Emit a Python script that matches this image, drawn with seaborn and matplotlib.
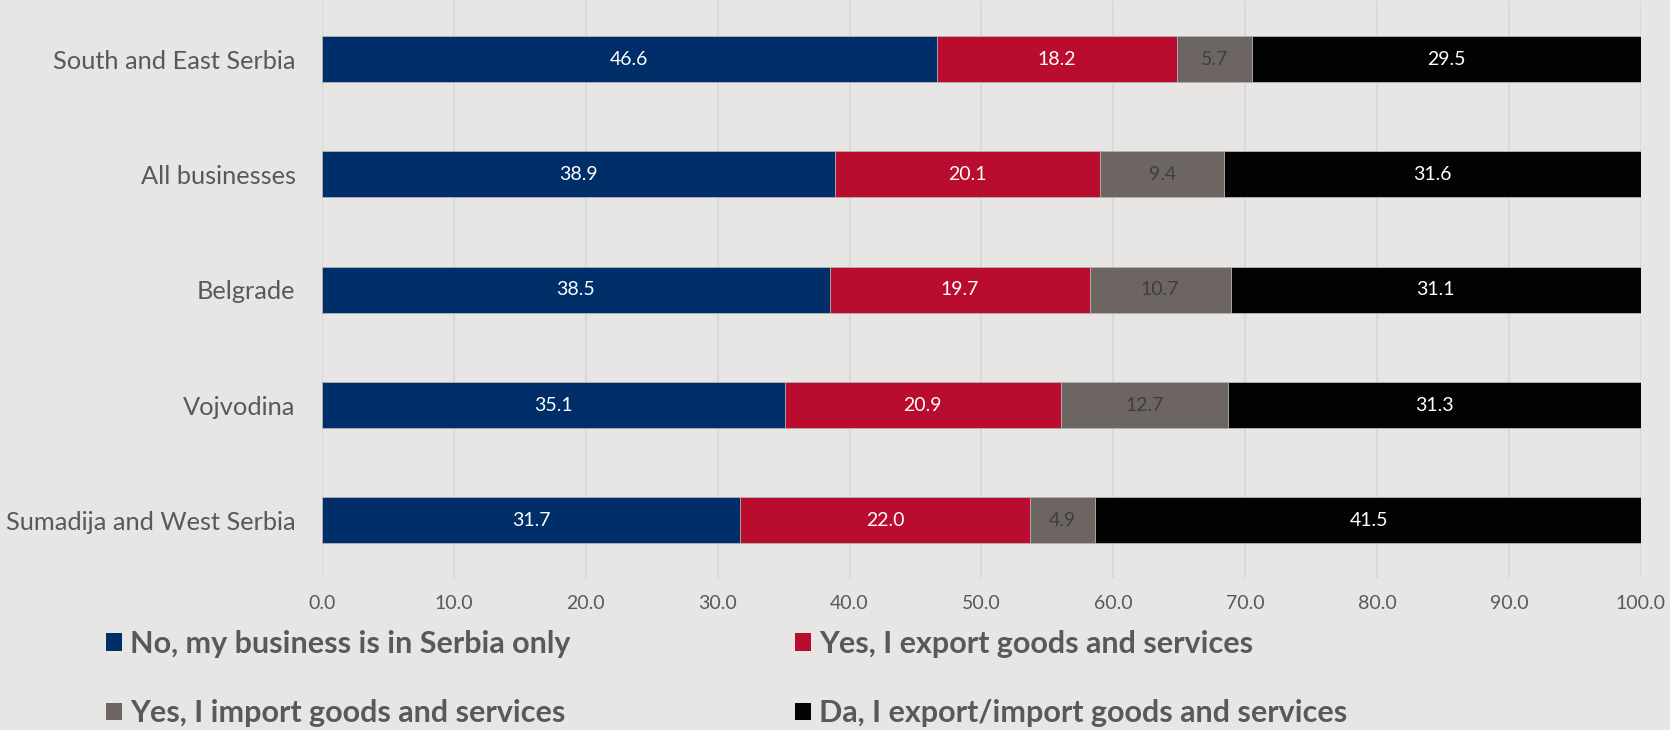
import matplotlib
matplotlib.use("Agg")
import matplotlib.pyplot as plt
import seaborn as sns
import pandas as pd
import numpy as np
from matplotlib.patches import Patch

# Share of businesses by trade activity, per region (%)
regions = ["South and East Serbia", "All businesses", "Belgrade",
           "Vojvodina", "Sumadija and West Serbia"]
serbia_only = [46.6, 38.9, 38.5, 35.1, 31.7]
export_only = [18.2, 20.1, 19.7, 20.9, 22.0]
import_only = [5.7, 9.4, 10.7, 12.7, 4.9]
export_import = [29.5, 31.6, 31.1, 31.3, 41.5]

series_names = ["No, my business is in Serbia only",
                "Yes, I export goods and services",
                "Yes, I import goods and services",
                "Da, I export/import goods and services"]
series_values = [serbia_only, export_only, import_only, export_import]
series_colors = ["#002e69", "#ba0c2f", "#6d6561", "#030303"]
label_colors = ["white", "white", "#3f3f3f", "white"]
x_ticks = [0, 10, 20, 30, 40, 50, 60, 70, 80, 90, 100]

BG = "#e7e6e5"
GRID = "#d8d8d8"
TEXT = "#595959"
FONT = "Lato"

sns.set_theme(style="white")
plt.rcParams["font.family"] = [FONT, "DejaVu Sans"]

fig = plt.figure(figsize=(16.7, 7.3), dpi=100, facecolor=BG)
ax = fig.add_axes([0.1928, 0.2082, 0.9826 - 0.1928, 0.998 - 0.2082])
ax.set_facecolor(BG)

vals = np.array(series_values, dtype=float)
cum = np.cumsum(vals, axis=0)

# stacked bars: draw cumulative totals from the outermost segment inwards
for i in range(len(series_names) - 1, -1, -1):
    df = pd.DataFrame({"region": regions, "value": cum[i]})
    sns.barplot(data=df, x="value", y="region", order=regions, orient="h",
                color=series_colors[i], saturation=1, width=0.4,
                edgecolor="#b8b8b8", linewidth=0.6, ax=ax, zorder=3)

# value labels at the centre of each segment
for i in range(len(series_names)):
    starts = cum[i] - vals[i]
    for j, v in enumerate(vals[i]):
        ax.text(starts[j] + v / 2, j, f"{v:.1f}", ha="center", va="center",
                color=label_colors[i], fontsize=14, zorder=5)

ax.set_xlim(0, 100)
ax.set_ylim(len(regions) - 0.5, -0.5)
ax.set_xticks(x_ticks)
ax.set_xticklabels([f"{t:.1f}" for t in x_ticks])
ax.set_xlabel("")
ax.set_ylabel("")
ax.grid(axis="x", color=GRID, linewidth=1.3, zorder=0)
ax.grid(axis="y", visible=False)
ax.set_axisbelow(True)
for s in ax.spines.values():
    s.set_visible(False)
ax.tick_params(axis="x", length=0, pad=12, labelsize=14, labelcolor=TEXT)
ax.tick_params(axis="y", length=0, pad=19, labelsize=18.3, labelcolor=TEXT)

handles = [Patch(facecolor=c, edgecolor="none") for c in series_colors]
order = [0, 2, 1, 3]
leg = fig.legend([handles[k] for k in order], [series_names[k] for k in order],
                 ncol=2, loc="upper left",
                 bbox_to_anchor=(106 / 1670, 1 - 630 / 730),
                 frameon=False, borderpad=0, borderaxespad=0,
                 handlelength=0.52, handleheight=0.52, handletextpad=0.26,
                 columnspacing=7.35, labelspacing=1.35,
                 prop={"family": FONT, "weight": "bold", "size": 22})
for t in leg.get_texts():
    t.set_color(TEXT)

fig.savefig("out.png", dpi=100, facecolor=BG)
